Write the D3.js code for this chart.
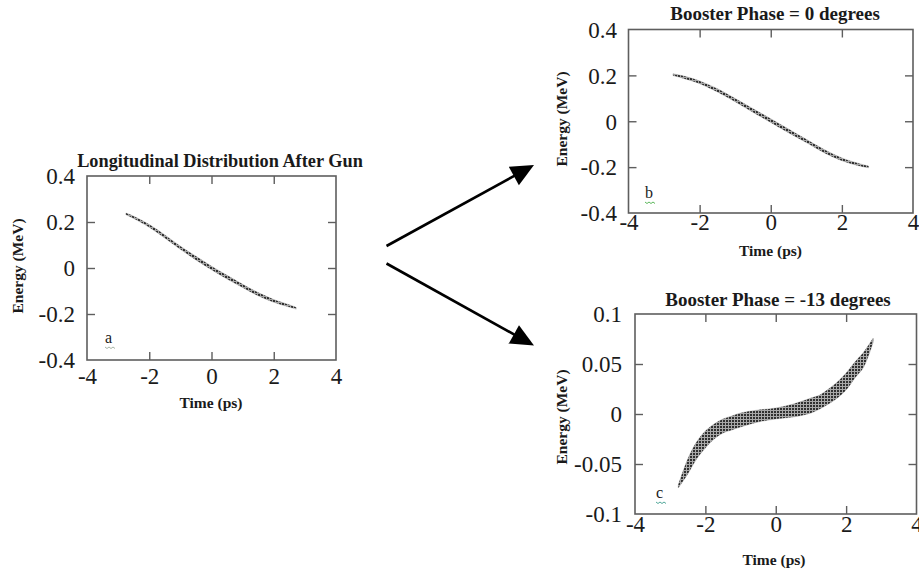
<!DOCTYPE html>
<html>
<head>
<meta charset="utf-8">
<script src="https://cdn.jsdelivr.net/npm/d3@7"></script>
<style>
  html, body { margin: 0; padding: 0; background: #fff; }
  svg { display: block; }
  text { font-family: "Liberation Serif", "Times New Roman", serif; fill: #1a1a1a; }
</style>
</head>
<body>
<svg id="chart" width="919" height="573"></svg>
<script>
// ---------------- data ----------------
const xTickValues = [-4, -2, 0, 2, 4];
const xTickLabels = ["-4", "-2", "0", "2", "4"];
const xInnerTicks = [-2, 0, 2];

const yTickValuesAB = [-0.4, -0.2, 0, 0.2, 0.4];
const yTickLabelsAB = ["-0.4", "-0.2", "0", "0.2", "0.4"];
const yInnerTicksAB = [-0.2, 0, 0.2];

const yTickValuesC = [-0.1, -0.05, 0, 0.05, 0.1];
const yTickLabelsC = ["-0.1", "-0.05", "0", "0.05", "0.1"];
const yInnerTicksC = [-0.05, 0, 0.05];

// (a) after gun: centre energy and half-width of the thin band
const timeA   = [-2.75, -2.5, -2.0, -1.5, -1.0, -0.5, 0.0, 0.5, 1.0, 1.5, 2.0, 2.5, 2.72];
const energyA = [0.235, 0.220, 0.183, 0.137, 0.088, 0.043, 0.000, -0.040, -0.078, -0.114, -0.143, -0.165, -0.175];
const spreadA = [0.004, 0.005, 0.006, 0.007, 0.007, 0.008, 0.008, 0.008, 0.007, 0.007, 0.006, 0.005, 0.004];

// (b) booster phase 0 degrees
const timeB   = [-2.75, -2.5, -2.0, -1.5, -1.0, -0.5, 0.0, 0.5, 1.0, 1.5, 2.0, 2.5, 2.75];
const energyB = [0.203, 0.194, 0.170, 0.135, 0.092, 0.047, 0.003, -0.042, -0.086, -0.130, -0.166, -0.190, -0.199];
const spreadB = [0.004, 0.005, 0.006, 0.007, 0.007, 0.008, 0.008, 0.008, 0.007, 0.007, 0.006, 0.005, 0.004];

// (c) booster phase -13 degrees: upper and lower edge of the band
const timeC   = [-2.77, -2.5, -2.25, -2.0, -1.75, -1.5, -1.25, -1.0, -0.5, 0.0, 0.5, 1.0, 1.25, 1.5, 1.75, 2.0, 2.25, 2.5, 2.77];
const upperC  = [-0.071, -0.045, -0.028, -0.017, -0.010, -0.005, -0.002, 0.001, 0.004, 0.006, 0.010, 0.016, 0.019, 0.025, 0.032, 0.041, 0.052, 0.062, 0.076];
const lowerC  = [-0.074, -0.060, -0.045, -0.034, -0.025, -0.019, -0.016, -0.013, -0.008, -0.005, -0.003, 0.001, 0.005, 0.010, 0.016, 0.024, 0.036, 0.047, 0.072];

const titles = ["Longitudinal Distribution After Gun", "Booster Phase = 0 degrees", "Booster Phase = -13 degrees"];
const xTitle = "Time (ps)";
const yTitle = "Energy (MeV)";
const panelLetters = ["a", "b", "c"];

// ---------------- build ----------------
const svg = d3.select("#chart");
const defs = svg.append("defs");

const pat = defs.append("pattern").attr("id", "hatch")
  .attr("patternUnits", "userSpaceOnUse").attr("width", 3).attr("height", 3);
pat.append("rect").attr("width", 3).attr("height", 3).attr("fill", "#303030");
pat.append("rect").attr("x", 2).attr("width", 1).attr("height", 3).attr("fill", "#a8a8a8");
pat.append("rect").attr("y", 2).attr("width", 3).attr("height", 1).attr("fill", "#a8a8a8");

const bandsAB = (t, e, s) => t.map((v, i) => ({ t: v, hi: e[i] + s[i], lo: e[i] - s[i] }));
const bandC = timeC.map((v, i) => ({ t: v, hi: upperC[i], lo: lowerC[i] }));

const panels = [
  { box: [87, 336, 176, 360], yDom: [-0.4, 0.4], yVals: yTickValuesAB, yLabs: yTickLabelsAB, yInner: yInnerTicksAB,
    band: bandsAB(timeA, energyA, spreadA), title: titles[0], titleX: 220, titleY: 167, titleSize: 18.3,
    xLabBase: 23.5, yLabGap: 12, xTitleX: 211, xTitleY: 408, yTitleX: 23, yTitleY: 266,
    letter: panelLetters[0], letterX: 105, letterY: 343, sq: "#a7b4a7" },
  { box: [628.5, 913, 29.5, 213], yDom: [-0.4, 0.4], yVals: yTickValuesAB, yLabs: yTickLabelsAB, yInner: yInnerTicksAB,
    band: bandsAB(timeB, energyB, spreadB), title: titles[1], titleX: 775, titleY: 19.5, titleSize: 19,
    xLabBase: 17, yLabGap: 11.5, xTitleX: 770.5, xTitleY: 256, yTitleX: 566.5, yTitleY: 119,
    letter: panelLetters[1], letterX: 645, letterY: 198, sq: "#5cb85c" },
  { box: [635, 916.5, 314, 514], yDom: [-0.1, 0.1], yVals: yTickValuesC, yLabs: yTickLabelsC, yInner: yInnerTicksC,
    band: bandC, title: titles[2], titleX: 778, titleY: 306, titleSize: 19,
    xLabBase: 18, yLabGap: 13, xTitleX: 774, xTitleY: 565, yTitleX: 566.5, yTitleY: 417,
    letter: panelLetters[2], letterX: 656, letterY: 498, sq: "#52a89a" }
];

const frameColor = "#5e5e5e";

panels.forEach(p => {
  const [L, R, T, B] = p.box;
  const x = d3.scaleLinear().domain([-4, 4]).range([L, R]);
  const y = d3.scaleLinear().domain(p.yDom).range([B, T]);
  const g = svg.append("g");

  // band
  const area = d3.area().curve(d3.curveCatmullRom)
    .x(d => x(d.t)).y0(d => y(d.lo)).y1(d => y(d.hi));
  g.append("path").datum(p.band).attr("d", area)
    .attr("fill", "url(#hatch)").attr("stroke", "#555").attr("stroke-width", 0.4).attr("stroke-opacity", 0.6);

  // inward ticks on all four sides
  const tickStyle = sel => {
    sel.select(".domain").remove();
    sel.selectAll("line").attr("stroke", frameColor).attr("stroke-width", 1.4);
  };
  g.append("g").attr("transform", `translate(0,${B})`)
    .call(d3.axisBottom(x).tickValues(xInnerTicks).tickSize(-8).tickFormat("")).call(tickStyle);
  g.append("g").attr("transform", `translate(0,${T})`)
    .call(d3.axisTop(x).tickValues(xInnerTicks).tickSize(-8).tickFormat("")).call(tickStyle);
  g.append("g").attr("transform", `translate(${L},0)`)
    .call(d3.axisLeft(y).tickValues(p.yInner).tickSize(-8).tickFormat("")).call(tickStyle);
  g.append("g").attr("transform", `translate(${R},0)`)
    .call(d3.axisRight(y).tickValues(p.yInner).tickSize(-8).tickFormat("")).call(tickStyle);

  // frame
  g.append("rect").attr("x", L).attr("y", T).attr("width", R - L).attr("height", B - T)
    .attr("fill", "none").attr("stroke", frameColor).attr("stroke-width", 1.6);

  // tick labels
  const xl = g.append("g").attr("transform", `translate(0,${B})`)
    .call(d3.axisBottom(x).tickValues(xTickValues).tickSize(0).tickFormat((d, i) => xTickLabels[i]));
  xl.select(".domain").remove();
  xl.selectAll("text").attr("y", p.xLabBase).attr("dy", null)
    .style("font-family", '"Liberation Serif", serif').style("font-size", "23px").attr("fill", "#1a1a1a");

  const yl = g.append("g").attr("transform", `translate(${L},0)`)
    .call(d3.axisLeft(y).tickValues(p.yVals).tickSize(0).tickPadding(p.yLabGap).tickFormat((d, i) => p.yLabs[i]));
  yl.select(".domain").remove();
  yl.selectAll("text").attr("dy", "0.34em")
    .style("font-family", '"Liberation Serif", serif').style("font-size", "23px").attr("fill", "#1a1a1a");

  // titles
  g.append("text").attr("x", p.titleX).attr("y", p.titleY).attr("text-anchor", "middle")
    .style("font-weight", "bold").style("font-size", p.titleSize + "px").text(p.title);
  g.append("text").attr("x", p.xTitleX).attr("y", p.xTitleY).attr("text-anchor", "middle")
    .style("font-weight", "bold").style("font-size", "15.5px").text(xTitle);
  g.append("text").attr("transform", `translate(${p.yTitleX},${p.yTitleY}) rotate(-90)`)
    .attr("text-anchor", "middle").style("font-weight", "bold").style("font-size", "15.5px").text(yTitle);

  // panel letter with a wavy underline
  g.append("text").attr("x", p.letterX).attr("y", p.letterY).style("font-size", "16px").attr("fill", "#333").text(p.letter);
  const wave = d3.path();
  const wy = p.letterY + 4;
  wave.moveTo(p.letterX, wy);
  for (let k = 1; k <= 5; k++) wave.lineTo(p.letterX + k * 2, wy + (k % 2 ? 1.5 : 0));
  g.append("path").attr("d", wave.toString()).attr("fill", "none").attr("stroke", p.sq).attr("stroke-width", 1);
});

// arrows between panels
const arrows = [
  { from: [386.5, 246], tip: [534, 165] },
  { from: [386.5, 263.5], tip: [534, 345.5] }
];
arrows.forEach(a => {
  const dx = a.tip[0] - a.from[0], dy = a.tip[1] - a.from[1];
  const len = Math.hypot(dx, dy), ux = dx / len, uy = dy / len;
  const headLen = 23, headHalf = 10.5;
  const bx = a.tip[0] - ux * headLen, by = a.tip[1] - uy * headLen;
  svg.append("line").attr("x1", a.from[0]).attr("y1", a.from[1]).attr("x2", bx + ux * 2).attr("y2", by + uy * 2)
    .attr("stroke", "#000").attr("stroke-width", 2.6);
  svg.append("path")
    .attr("d", `M${a.tip[0]},${a.tip[1]} L${bx - uy * headHalf},${by + ux * headHalf} L${bx + uy * headHalf},${by - ux * headHalf} Z`)
    .attr("fill", "#000");
});
</script>
</body>
</html>
